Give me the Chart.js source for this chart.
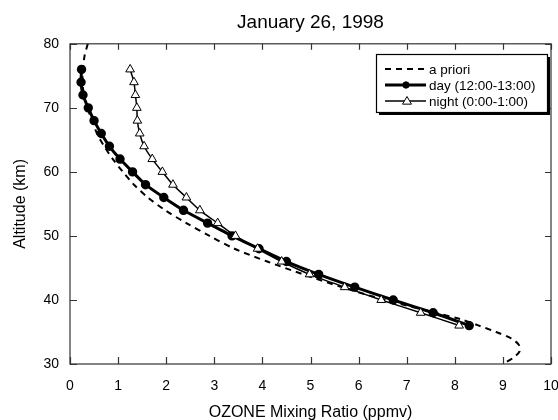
<!DOCTYPE html>
<html>
<head>
<meta charset="utf-8">
<script src="https://cdn.jsdelivr.net/npm/chart.js@4/dist/chart.umd.min.js"></script>
<style>
  html, body { margin: 0; padding: 0; background: #fff; }
  #wrap { width: 558px; height: 420px; }
</style>
</head>
<body>
<div id="wrap"><canvas id="ozoneChart" width="558" height="420"></canvas></div>
<script>
// ---------- data ----------
const retrievalAltitudes = [76, 74, 72, 70, 68, 66, 64, 62, 60, 58, 56, 54, 52, 50, 48, 46, 44, 42, 40, 38, 36];
const dayOzone   = [0.24, 0.23, 0.27, 0.38, 0.50, 0.65, 0.82, 1.04, 1.30, 1.57, 1.95, 2.36, 2.86, 3.37, 3.93, 4.50, 5.17, 5.92, 6.72, 7.55, 8.30];
const nightOzone = [1.25, 1.33, 1.36, 1.39, 1.40, 1.45, 1.54, 1.71, 1.92, 2.14, 2.42, 2.70, 3.07, 3.44, 3.90, 4.40, 4.98, 5.71, 6.47, 7.29, 8.09];

const aprioriAltitudes = [80, 78, 76, 74, 72, 70, 68, 66, 64, 62, 60, 58, 56, 54, 52, 50, 48, 46, 44, 42, 40, 38, 37, 36, 35, 34, 33, 32, 31, 30];
const aprioriOzone     = [0.37, 0.30, 0.27, 0.26, 0.29, 0.36, 0.46, 0.56, 0.71, 0.89, 1.10, 1.33, 1.62, 1.98, 2.42, 2.90, 3.42, 4.10, 4.85, 5.65, 6.55, 7.60, 8.12, 8.50, 8.86, 9.17, 9.33, 9.35, 9.22, 9.00];

const xTicks = [0, 1, 2, 3, 4, 5, 6, 7, 8, 9, 10];
const yTicks = [30, 40, 50, 60, 70, 80];

const FONT = "'Liberation Sans', Arial, Helvetica, sans-serif";

function toPoints(xs, ys) {
    return xs.map((v, i) => ({ x: v, y: ys[i] }));
}

// frame + inward ticks on all four sides
const frameTicks = {
    id: "frameTicks",
    afterDatasetsDraw(chart) {
        const { ctx, chartArea: a, scales } = chart;
        ctx.save();
        ctx.strokeStyle = "#333";
        ctx.lineWidth = 1.2;
        ctx.strokeRect(a.left, a.top, a.right - a.left, a.bottom - a.top);
        ctx.beginPath();
        xTicks.forEach(t => {
            const px = Math.round(scales.x.getPixelForValue(t)) + 0.5;
            ctx.moveTo(px, a.bottom); ctx.lineTo(px, a.bottom - 7);
            ctx.moveTo(px, a.top);    ctx.lineTo(px, a.top + 6);
        });
        yTicks.forEach(t => {
            const py = Math.round(scales.y.getPixelForValue(t)) + 0.5;
            ctx.moveTo(a.left, py);  ctx.lineTo(a.left + 7, py);
            ctx.moveTo(a.right, py); ctx.lineTo(a.right - 6, py);
        });
        ctx.stroke();
        ctx.restore();
    }
};

// boxed legend with drop shadow, upper right inside the plot
const boxLegend = {
    id: "boxLegend",
    afterDraw(chart) {
        const { ctx } = chart;
        const x0 = 376, y0 = 54, w = 171, h = 58;
        ctx.save();
        ctx.fillStyle = "#000";
        ctx.fillRect(x0 + 3, y0 + 3, w, h);
        ctx.fillStyle = "#fff";
        ctx.fillRect(x0, y0, w, h);
        ctx.strokeStyle = "#000";
        ctx.lineWidth = 1.2;
        ctx.strokeRect(x0 + 0.5, y0 + 0.5, w, h);

        ctx.font = "13.5px " + FONT;
        ctx.textBaseline = "middle";
        ctx.fillStyle = "#000";
        const rows = [69, 85, 101];
        chart.data.datasets.forEach((ds, i) => {
            const y = rows[i];
            ctx.beginPath();
            ctx.strokeStyle = "#000";
            ctx.lineWidth = ds.borderWidth;
            ctx.setLineDash(ds.borderDash || []);
            ctx.moveTo(385, y);
            ctx.lineTo(426, y);
            ctx.stroke();
            ctx.setLineDash([]);
            if (ds.pointRadius > 0) {
                ctx.lineWidth = 1;
                ctx.fillStyle = ds.pointBackgroundColor;
                ctx.beginPath();
                if (ds.pointStyle === "triangle") {
                    const r = 4.5;
                    ctx.moveTo(407, y - r);
                    ctx.lineTo(407 + r, y + r * 0.7);
                    ctx.lineTo(407 - r, y + r * 0.7);
                    ctx.closePath();
                } else {
                    ctx.arc(406, y, 3.2, 0, Math.PI * 2);
                }
                ctx.fill();
                ctx.stroke();
            }
            ctx.fillStyle = "#000";
            ctx.fillText(ds.label, 429, y + 1);
        });
        ctx.restore();
    }
};

new Chart(document.getElementById("ozoneChart").getContext("2d"), {
    type: "scatter",
    data: {
        datasets: [
            {
                label: "a priori",
                data: toPoints(aprioriOzone, aprioriAltitudes),
                showLine: true,
                borderColor: "#000",
                borderWidth: 2,
                borderDash: [6, 5],
                pointRadius: 0,
                tension: 0.3,
                order: 3
            },
            {
                label: "day (12:00-13:00)",
                data: toPoints(dayOzone, retrievalAltitudes),
                showLine: true,
                borderColor: "#000",
                borderWidth: 3,
                pointStyle: "circle",
                pointRadius: 3.2,
                pointBackgroundColor: "#000",
                pointBorderColor: "#000",
                tension: 0.2,
                order: 2
            },
            {
                label: "night (0:00-1:00)",
                data: toPoints(nightOzone, retrievalAltitudes),
                showLine: true,
                borderColor: "#000",
                borderWidth: 1.5,
                pointStyle: "triangle",
                pointRadius: 5,
                pointBorderWidth: 1,
                pointBackgroundColor: "#fff",
                pointBorderColor: "#000",
                tension: 0.2,
                order: 1
            }
        ]
    },
    options: {
        responsive: false,
        animation: false,
        layout: { padding: { left: 0, right: 2, top: 0, bottom: 0 } },
        plugins: {
            legend: { display: false },
            tooltip: { enabled: false },
            title: {
                display: true,
                text: "January 26, 1998",
                fullSize: false,
                color: "#000",
                font: { family: FONT, size: 19, weight: "normal" },
                padding: { top: 11, bottom: 10 }
            }
        },
        scales: {
            x: {
                type: "linear",
                min: 0,
                max: 10,
                grid: { display: false, drawTicks: false },
                border: { display: false },
                ticks: {
                    stepSize: 1,
                    color: "#000",
                    padding: 14,
                    maxRotation: 0,
                    font: { family: FONT, size: 14 }
                },
                title: {
                    display: true,
                    text: "OZONE Mixing Ratio (ppmv)",
                    color: "#000",
                    font: { family: FONT, size: 16 },
                    padding: { top: 0, bottom: -2 }
                },
                afterFit(scale) {
                    scale.height = 56;
                    scale.paddingLeft = 0;
                    scale.paddingRight = 0;
                }
            },
            y: {
                type: "linear",
                min: 30,
                max: 80,
                grid: { display: false, drawTicks: false },
                border: { display: false },
                ticks: {
                    stepSize: 10,
                    color: "#000",
                    padding: 11,
                    font: { family: FONT, size: 14 }
                },
                title: {
                    display: true,
                    text: "Altitude (km)",
                    color: "#000",
                    font: { family: FONT, size: 16 },
                    padding: { top: 11, bottom: 0 }
                },
                afterFit(scale) {
                    scale.width = 70;
                    scale.paddingTop = 0;
                    scale.paddingBottom = 0;
                }
            }
        }
    },
    plugins: [frameTicks, boxLegend]
});
</script>
</body>
</html>
